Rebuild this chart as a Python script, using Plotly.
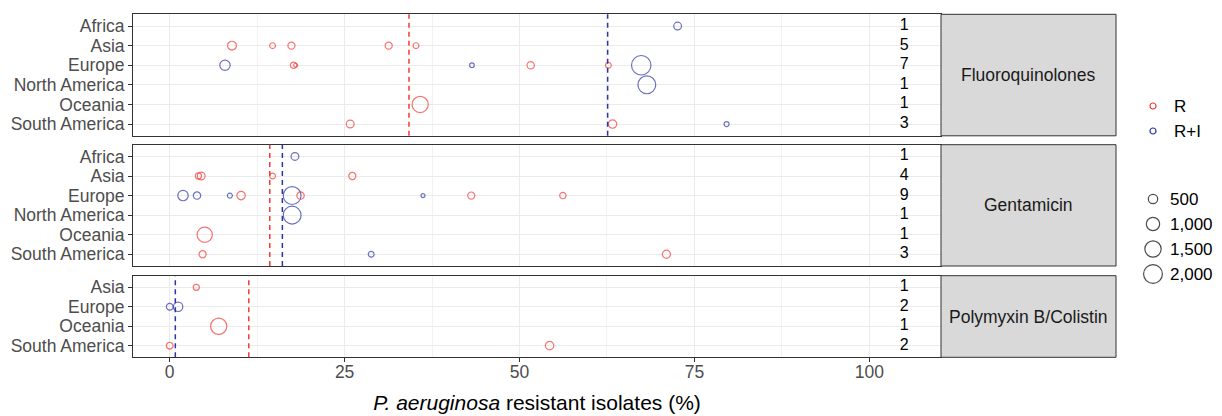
import plotly.graph_objects as go

# ---------------- data ----------------
antibiotics = ["Fluoroquinolones", "Gentamicin", "Polymyxin B/Colistin"]

regions_fq = ["Africa", "Asia", "Europe", "North America", "Oceania", "South America"]
regions_gen = ["Africa", "Asia", "Europe", "North America", "Oceania", "South America"]
regions_pol = ["Asia", "Europe", "Oceania", "South America"]

# Fluoroquinolones
fq_r_region = ["Asia", "Asia", "Asia", "Asia", "Asia", "Europe", "Europe", "Europe", "Europe",
               "Oceania", "South America", "South America"]
fq_r_pct = [8.9, 14.7, 17.4, 31.3, 35.2, 17.7, 18.0, 51.6, 62.7, 35.8, 25.8, 63.3]
fq_r_n = [440, 190, 285, 285, 190, 230, 90, 310, 190, 1490, 340, 400]
fq_ri_region = ["Africa", "Europe", "Europe", "Europe", "North America", "South America"]
fq_ri_pct = [72.6, 7.9, 43.2, 67.4, 68.2, 79.6]
fq_ri_n = [340, 610, 120, 2140, 1800, 140]
fq_counts = [1, 5, 7, 1, 1, 3]
fq_mean_r = 34.2
fq_mean_ri = 62.6

# Gentamicin
gen_r_region = ["Asia", "Asia", "Asia", "Asia", "Europe", "Europe", "Europe", "Europe",
                "Oceania", "South America", "South America"]
gen_r_pct = [4.1, 4.5, 14.7, 26.1, 10.2, 18.7, 43.1, 56.2, 5.0, 4.7, 71.0]
gen_r_n = [210, 340, 190, 285, 400, 310, 285, 230, 1315, 285, 370]
gen_ri_region = ["Africa", "Europe", "Europe", "Europe", "Europe", "Europe", "North America",
                 "South America"]
gen_ri_pct = [17.9, 1.9, 3.9, 8.6, 17.5, 36.2, 17.5, 28.8]
gen_ri_n = [340, 610, 310, 140, 1800, 90, 1800, 190]
gen_counts = [1, 4, 9, 1, 1, 3]
gen_mean_r = 14.3
gen_mean_ri = 16.1

# Polymyxin B / Colistin
pol_r_region = ["Asia", "Oceania", "South America", "South America"]
pol_r_pct = [3.8, 7.0, 0.0, 54.3]
pol_r_n = [210, 1490, 260, 400]
pol_ri_region = ["Europe", "Europe"]
pol_ri_pct = [0.0, 1.2]
pol_ri_n = [260, 500]
pol_counts = [1, 2, 1, 2]
pol_mean_r = 11.3
pol_mean_ri = 0.8

legend_groups = ["R", "R+I"]
legend_sizes = [500, 1000, 1500, 2000]
x_ticks = [0, 25, 50, 75, 100]

# ---------------- style ----------------
RED = "#F23B33"
BLUE = "#2C35A6"
FONT = "Liberation Sans, Arial, Helvetica, sans-serif"
W, H = 1222, 416
SIZEREF = 11.3
COUNT_X = 105
X_RANGE = [-5.25, 110.25]

X_DOM = [133 / W, 941 / W]
STRIP_X = [941 / W, 1116 / W]
Y_DOMS = [
    [(H - 135.8) / H, (H - 14.3) / H],
    [(H - 266.0) / H, (H - 144.7) / H],
    [(H - 357.3) / H, (H - 275.7) / H],
]

panels = [
    (regions_fq, fq_r_region, fq_r_pct, fq_r_n, fq_ri_region, fq_ri_pct, fq_ri_n,
     fq_counts, fq_mean_r, fq_mean_ri),
    (regions_gen, gen_r_region, gen_r_pct, gen_r_n, gen_ri_region, gen_ri_pct, gen_ri_n,
     gen_counts, gen_mean_r, gen_mean_ri),
    (regions_pol, pol_r_region, pol_r_pct, pol_r_n, pol_ri_region, pol_ri_pct, pol_ri_n,
     pol_counts, pol_mean_r, pol_mean_ri),
]

fig = go.Figure()
shapes = []
annotations = []
layout_axes = {}

for i, (regs, rr, rp, rn, rir, rip, rin, counts, mr, mri) in enumerate(panels):
    k = i + 1
    xa = "x" if k == 1 else f"x{k}"
    ya = "y" if k == 1 else f"y{k}"
    xkey = "xaxis" if k == 1 else f"xaxis{k}"
    ykey = "yaxis" if k == 1 else f"yaxis{k}"

    # R+I points (blue) then R points (red)
    for reg, pct, n, col, name in [(rir, rip, rin, BLUE, "R+I"), (rr, rp, rn, RED, "R")]:
        fig.add_trace(go.Scatter(
            x=pct, y=reg, mode="markers", name=name, showlegend=False,
            xaxis=xa, yaxis=ya,
            marker=dict(symbol="circle-open", size=n, sizemode="area", sizeref=SIZEREF,
                        sizemin=2, color=col, line=dict(width=1.2, color=col)),
            hoverinfo="x+y+text", text=[f"n={v}" for v in n],
        ))
    # study counts
    fig.add_trace(go.Scatter(
        x=[COUNT_X] * len(regs), y=regs, mode="text", text=[str(c) for c in counts],
        textfont=dict(size=16, color="black", family=FONT), showlegend=False,
        xaxis=xa, yaxis=ya, hoverinfo="skip",
    ))
    # mean lines
    for m, col in [(mr, RED), (mri, BLUE)]:
        shapes.append(dict(type="line", xref=xa, yref=f"{ya} domain", x0=m, x1=m, y0=0, y1=1,
                           line=dict(color=col, width=1.5, dash="5px,4px"), layer="above"))
    # strip
    shapes.append(dict(type="rect", xref="paper", yref=f"{ya} domain",
                       x0=STRIP_X[0], x1=STRIP_X[1], y0=0, y1=1,
                       fillcolor="#D9D9D9", line=dict(color="#333333", width=1)))
    annotations.append(dict(text=antibiotics[i], xref="paper", yref=f"{ya} domain",
                            x=(STRIP_X[0] + STRIP_X[1]) / 2, y=0.5, showarrow=False,
                            xanchor="center", yanchor="middle",
                            font=dict(size=17.5, color="#1A1A1A", family=FONT)))

    last = (k == 3)
    layout_axes[xkey] = dict(
        domain=X_DOM, range=X_RANGE, anchor=ya, tickmode="array", tickvals=x_ticks,
        showticklabels=last, ticks="outside" if last else "", ticklen=4, tickwidth=1,
        tickcolor="#333333", tickfont=dict(size=17.5, color="#4D4D4D", family=FONT),
        showgrid=True, gridcolor="#EBEBEB", gridwidth=1.4, zeroline=False,
        minor=dict(tick0=0, dtick=12.5, showgrid=True, gridcolor="#F2F2F2", gridwidth=0.8),
        showline=True, mirror=True, linecolor="#333333", linewidth=1, automargin=False,
    )
    if k > 1:
        layout_axes[xkey]["matches"] = "x"
    if last:
        layout_axes[xkey]["ticklabelstandoff"] = -5
        layout_axes[xkey]["title"] = dict(
            text="<i>P. aeruginosa</i> resistant isolates (%)",
            font=dict(size=21, color="black", family=FONT), standoff=14)
    layout_axes[ykey] = dict(
        domain=Y_DOMS[i], anchor=xa, type="category", categoryorder="array",
        categoryarray=regs, tickmode="array", tickvals=regs, ticktext=regs,
        range=[len(regs) - 0.4, -0.6],
        ticks="outside", ticklen=4, tickwidth=1, tickcolor="#333333",
        tickfont=dict(size=17.5, color="#4D4D4D", family=FONT),
        showgrid=True, gridcolor="#EBEBEB", gridwidth=1.4, zeroline=False,
        showline=True, mirror=True, linecolor="#333333", linewidth=1, automargin=False,
    )

# ---------------- legend (hidden axis in pixel units) ----------------
LX0 = 0.92
layout_axes["xaxis4"] = dict(domain=[LX0, 1.0], range=[LX0 * W, W], visible=False,
                             anchor="y4", fixedrange=True)
layout_axes["yaxis4"] = dict(domain=[0, 1], range=[H, 0], visible=False, anchor="x4",
                             fixedrange=True)

KEY_X = 1153
fig.add_trace(go.Scatter(
    x=[KEY_X, KEY_X], y=[106, 131], mode="markers", xaxis="x4", yaxis="y4",
    showlegend=False, hoverinfo="skip",
    marker=dict(symbol="circle-open", size=6, color=[RED, BLUE],
                line=dict(width=1.2, color=[RED, BLUE])),
))
for lab, yy in zip(legend_groups, [106, 131]):
    annotations.append(dict(text=lab, xref="x4", yref="y4", x=1172, y=yy, xanchor="left",
                            yanchor="middle", showarrow=False,
                            font=dict(size=17, color="black", family=FONT)))

size_y = [199, 224, 249, 274]
fig.add_trace(go.Scatter(
    x=[KEY_X] * len(legend_sizes), y=size_y, mode="markers", xaxis="x4", yaxis="y4",
    showlegend=False, hoverinfo="skip",
    marker=dict(symbol="circle-open", size=legend_sizes, sizemode="area", sizeref=SIZEREF,
                color="black", line=dict(width=1.2, color="black")),
))
for v, yy in zip(legend_sizes, size_y):
    annotations.append(dict(text=f"{v:,}", xref="x4", yref="y4", x=1168, y=yy, xanchor="left",
                            yanchor="middle", showarrow=False,
                            font=dict(size=17, color="black", family=FONT)))

fig.update_layout(
    width=W, height=H, margin=dict(l=0, r=0, t=0, b=0, autoexpand=False),
    paper_bgcolor="white", plot_bgcolor="white",
    font=dict(family=FONT), shapes=shapes, annotations=annotations, showlegend=False,
    **layout_axes,
)

fig.write_html("out.html", config={"displayModeBar": False},
               post_script="document.body.style.margin='0px';")
